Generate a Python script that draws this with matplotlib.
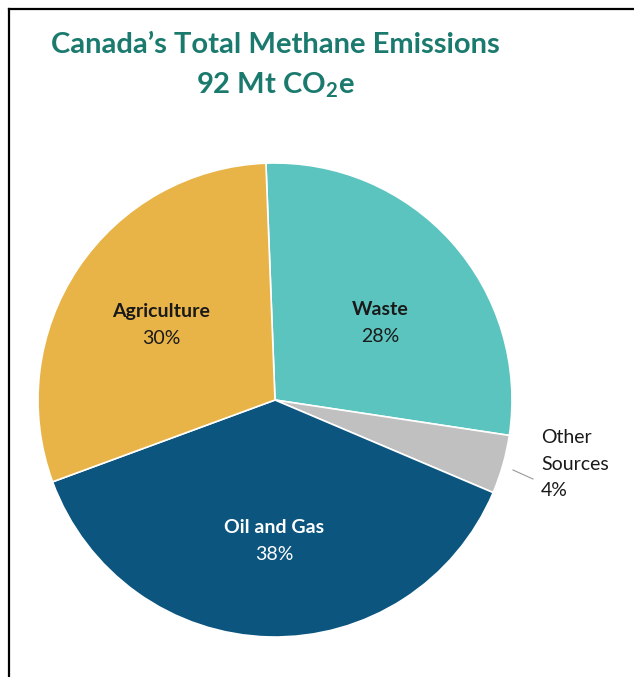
import matplotlib.pyplot as plt
from matplotlib.lines import Line2D

# methane emissions share by source, clockwise from the top
sources = ["Waste", "Other\nSources", "Oil and Gas", "Agriculture"]
shares = [28, 4, 38, 30]
colors = ["#5bc4bf", "#c0c0c0", "#0b557f", "#e9b447"]
label_colors = ["#1a1a1a", "#1a1a1a", "white", "#1a1a1a"]

title = "Canada\u2019s Total Methane Emissions"
subtitle = "92 Mt CO$_2$e"

plt.rcParams['font.family'] = ['Lato', 'DejaVu Sans']
plt.rcParams['mathtext.fontset'] = 'custom'
plt.rcParams['mathtext.rm'] = 'Lato:bold'
plt.rcParams['mathtext.bf'] = 'Lato:bold'

fig = plt.figure(figsize=(6.34, 6.77), dpi=100)
W, H = 634, 677

# pie axes: centre (275, 400), radius ~237 px
r = 237
cx, cy = 275, 400
ax = fig.add_axes([(cx - r) / W, 1 - (cy + r) / H, 2 * r / W, 2 * r / H])
wedges, _ = ax.pie(shares, colors=colors, startangle=92.2, counterclock=False,
                   radius=1, wedgeprops=dict(edgecolor="white", linewidth=1.2))
ax.set_xlim(-1, 1)
ax.set_ylim(-1, 1)
ax.set_aspect("equal")
ax.axis("off")

# in-slice labels (pixel positions converted to data coords)
def to_data(px, py):
    return (px - cx) / r, (cy - py) / r

spots = {"Waste": (380, 323), "Oil and Gas": (274, 541), "Agriculture": (161, 325)}
for name, val, col in zip(sources, shares, label_colors):
    if name in spots:
        x, y = to_data(*spots[name])
        ax.text(x, y + 0.058, name, ha="center", va="center", fontsize=14,
                fontweight="bold", color=col)
        ax.text(x, y - 0.058, f"{val}%", ha="center", va="center", fontsize=14,
                color=col)

# small slice label outside with leader line
x0, y0 = to_data(513, 470)
x1, y1 = to_data(533, 479)
ax.add_line(Line2D([x0, x1], [y0, y1], color="#9a9a9a", lw=0.8, clip_on=False))
lx, ly = to_data(541, 464)
ax.text(lx, ly, f"Other\nSources\n{shares[1]}%", ha="left", va="center",
        fontsize=14, color="#1a1a1a", linespacing=1.7, clip_on=False)

# title
fig.text(275 / W, 1 - 45 / H, title, ha="center", va="center", fontsize=21,
         fontweight="bold", color="#1b7a6e")
fig.text(275 / W, 1 - 85 / H, subtitle, ha="center", va="center", fontsize=21,
         fontweight="bold", color="#1b7a6e")

# frame lines on top and left
fig.add_artist(Line2D([8.5 / W, 1], [1 - 8.5 / H, 1 - 8.5 / H], color="black", lw=1.6))
fig.add_artist(Line2D([8.5 / W, 8.5 / W], [0, 1 - 8.5 / H], color="black", lw=1.6))

fig.savefig("out.png", dpi=100, facecolor="white")
